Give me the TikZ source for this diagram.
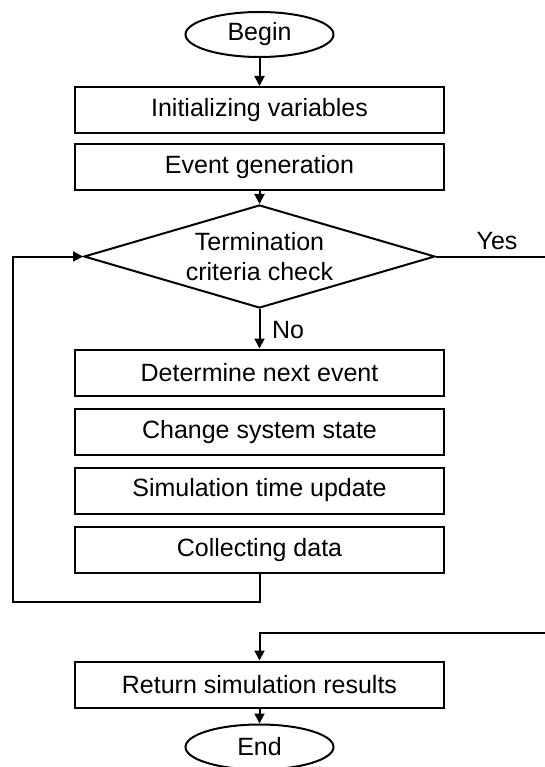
\documentclass[tikz,border=0pt]{standalone}
\usepackage{fontspec}
\setmainfont{Liberation Sans}
\usetikzlibrary{shapes.geometric,arrows.meta}
\begin{document}
\begin{tikzpicture}[x=1pt,y=-1pt,
  every node/.style={font=\fontsize{25}{30}\selectfont, text=black},
  proc/.style={draw, line width=2pt, minimum width=369pt, minimum height=46pt, inner sep=0pt},
  term/.style={draw, ellipse, line width=2pt, minimum width=148pt, minimum height=45pt, inner sep=0pt},
  dec/.style={draw, diamond, line width=2pt, minimum width=351pt, minimum height=103pt, inner sep=0pt, aspect=3.4, align=center},
  flow/.style={line width=2pt, -{Triangle[length=10pt,width=10pt]}},
  plain/.style={line width=2pt}]
\useasboundingbox (0,0) rectangle (545,767);

% main column
\node[term] (begin) at (259.5,34.5) {Begin};
\node[proc] (init)  at (259.5,110)  {Initializing variables};
\node[proc] (gen)   at (259.5,167)  {Event generation};
\node[dec]  (check) at (259.5,256.5) {Termination\\criteria check};
\node[proc] (next)  at (259.5,372.5) {Determine next event};
\node[proc] (state) at (259.5,432)  {Change system state};
\node[proc] (time)  at (259.5,490.5) {Simulation time update};
\node[proc] (data)  at (259.5,550)  {Collecting data};
\node[proc] (ret)   at (259.5,684.5) {Return simulation results};
\node[term] (end)   at (259.5,747)  {End};

% labels
\node (yes) at (497,241) {Yes};
\node (no)  at (288,330) {No};

% free ends and loop corner
\coordinate (yout) at (547,256.5);
\coordinate (rin)  at (547,633);
\coordinate (lb)   at (13,602);

% connectors
\draw[flow] (begin) -- (init);
\draw[flow] (gen) -- (check);
\draw[flow] (check) -- (next);
\draw[plain] (check.east) -- (yout);
\draw[flow] (data.south) |- (lb) |- (check.west);
\draw[flow] (rin) -| (ret.north);
\draw[flow] (ret) -- (end);
\end{tikzpicture}
\end{document}
